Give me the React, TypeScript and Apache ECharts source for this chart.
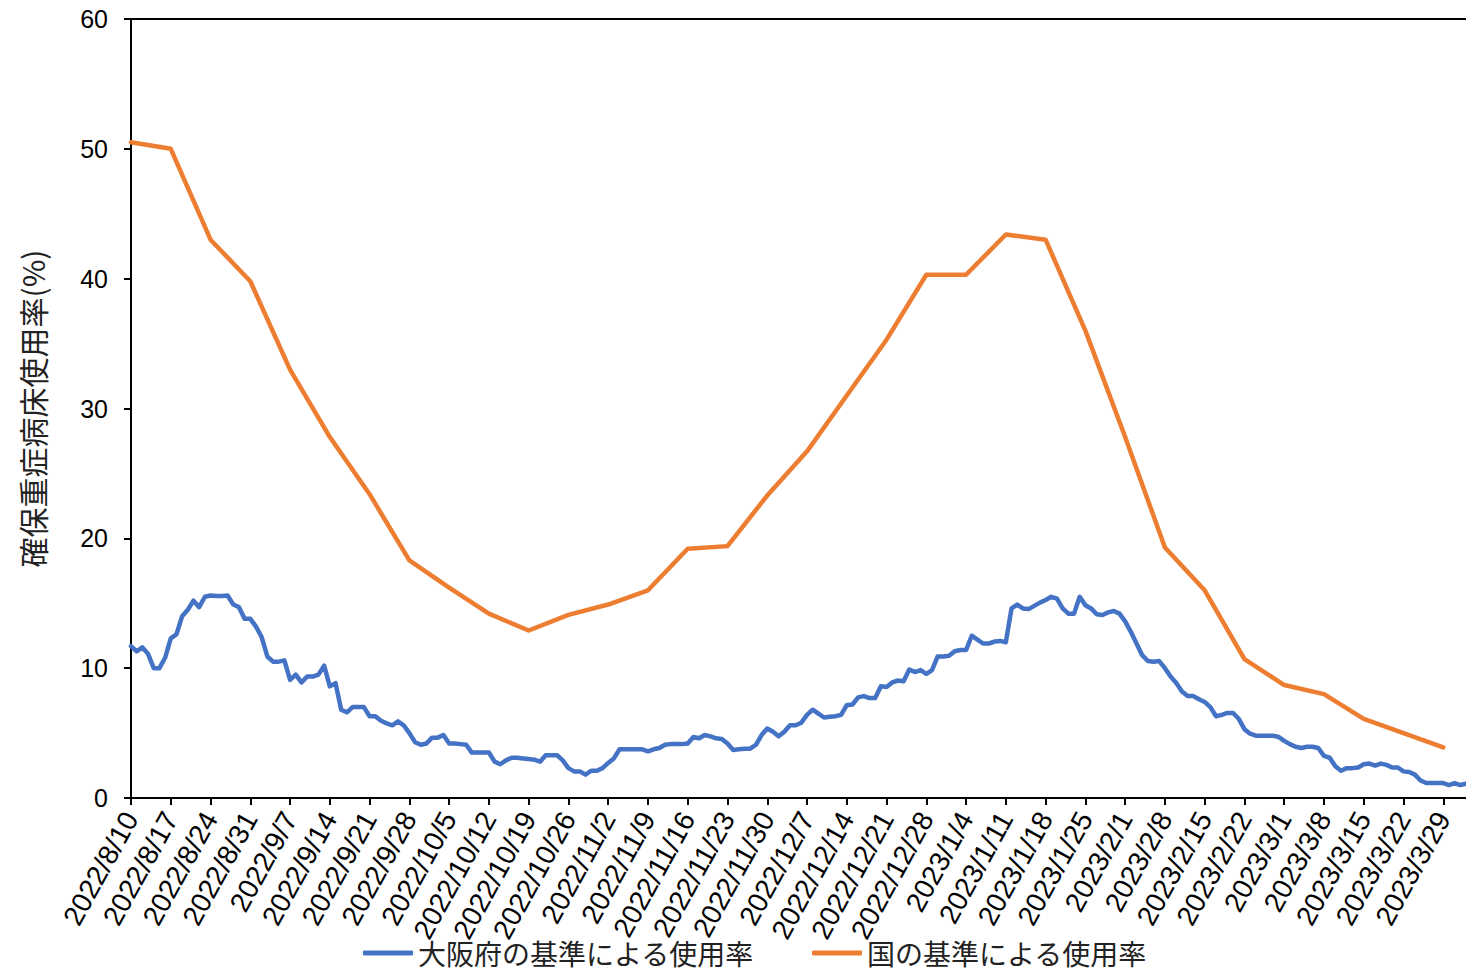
import React, { useEffect, useRef } from "react";
import * as echarts from "echarts";

const startDate = [2022, 8, 10];
const dayCount = 236;

// 大阪府の基準による使用率 (daily, from 2022/8/10)
const osakaRate = [
  11.7, 11.3, 11.6, 11.1, 10.0, 10.0, 10.8, 12.3, 12.6, 14.0,
  14.5, 15.2, 14.7, 15.5, 15.6, 15.55, 15.55, 15.6, 14.9, 14.7,
  13.8, 13.8, 13.2, 12.4, 10.9, 10.5, 10.5, 10.6, 9.1, 9.5,
  8.9, 9.35, 9.35, 9.5, 10.2, 8.6, 8.85, 6.8, 6.6, 7.0,
  7.0, 7.0, 6.3, 6.3, 5.95, 5.75, 5.6, 5.9, 5.6, 5.0,
  4.3, 4.1, 4.2, 4.65, 4.65, 4.85, 4.2, 4.2, 4.15, 4.1,
  3.5, 3.5, 3.5, 3.5, 2.8, 2.6, 2.9, 3.1, 3.1, 3.05,
  3.0, 2.95, 2.8, 3.3, 3.3, 3.3, 2.9, 2.3, 2.05, 2.05,
  1.8, 2.1, 2.1, 2.3, 2.7, 3.05, 3.75, 3.75, 3.75, 3.75,
  3.75, 3.6, 3.75, 3.85, 4.1, 4.15, 4.15, 4.15, 4.2, 4.7,
  4.6, 4.85, 4.75, 4.6, 4.55, 4.2, 3.7, 3.75, 3.8, 3.8,
  4.1, 4.85, 5.35, 5.1, 4.75, 5.1, 5.6, 5.6, 5.8, 6.4,
  6.8, 6.5, 6.2, 6.25, 6.3, 6.4, 7.15, 7.2, 7.75, 7.85,
  7.7, 7.7, 8.6, 8.55, 8.9, 9.05, 9.0, 9.9, 9.7, 9.85,
  9.55, 9.85, 10.9, 10.9, 10.95, 11.3, 11.4, 11.4, 12.5, 12.2,
  11.9, 11.9, 12.05, 12.1, 12.0, 14.6, 14.9, 14.6, 14.55, 14.8,
  15.05, 15.25, 15.5, 15.35, 14.6, 14.2, 14.2, 15.5, 14.85, 14.6,
  14.15, 14.1, 14.3, 14.4, 14.2, 13.6, 12.8, 11.9, 11.0, 10.55,
  10.5, 10.55, 10.0, 9.35, 8.85, 8.2, 7.85, 7.85, 7.6, 7.4,
  7.0, 6.3, 6.4, 6.55, 6.55, 6.1, 5.3, 4.95, 4.8, 4.8,
  4.8, 4.8, 4.7, 4.4, 4.15, 3.95, 3.85, 3.95, 3.95, 3.85,
  3.25, 3.1, 2.45, 2.1, 2.3, 2.3, 2.35, 2.6, 2.65, 2.5,
  2.65, 2.55, 2.35, 2.35, 2.05, 2.0, 1.8, 1.35, 1.15, 1.15,
  1.15, 1.15, 1.0, 1.15, 1.0, 1.1,
];

// 国の基準による使用率 (weekly, every 7 days from 2022/8/10)
const nationalRate = [
  50.5, 50.0, 43.0, 39.8, 33.0, 27.8, 23.4, 18.3, 16.2, 14.2,
  12.9, 14.1, 14.9, 16.0, 19.2, 19.4, 23.3, 26.7, 31.0, 35.3,
  40.3, 40.3, 43.4, 43.0, 36.0, 27.8, 19.3, 16.0, 10.7, 8.7,
  8.0, 6.1, 5.0, 3.9,
];

const seriesNames = ["大阪府の基準による使用率", "国の基準による使用率"];
const yAxisName = "確保重症病床使用率(%)";
const yTicks = { min: 0, max: 60, interval: 10 };

function buildDates(): string[] {
  const out: string[] = [];
  const base = Date.UTC(startDate[0], startDate[1] - 1, startDate[2]);
  for (let i = 0; i < dayCount; i++) {
    const d = new Date(base + i * 86400000);
    out.push(`${d.getUTCFullYear()}/${d.getUTCMonth() + 1}/${d.getUTCDate()}`);
  }
  return out;
}

export default function App() {
  const ref = useRef<HTMLDivElement>(null);
  useEffect(() => {
    if (!ref.current) return;
    const chart = echarts.init(ref.current, null, { renderer: "svg" });
    const dates = buildDates();
    const nationalFull = dates.map((_, i) =>
      i % 7 === 0 && i / 7 < nationalRate.length ? nationalRate[i / 7] : null
    );
    const font = "'Liberation Sans', Arial, 'Noto Sans CJK JP', sans-serif";
    const cjkFont = "'Noto Sans CJK JP', 'Liberation Sans', sans-serif";
    chart.setOption({
      animation: false,
      backgroundColor: "#ffffff",
      grid: { left: 131, top: 19, width: 1335, height: 779, containLabel: false },
      legend: {
        left: 358,
        top: 933,
        itemWidth: 50,
        itemHeight: 5,
        itemGap: 58,
        icon: "roundRect",
        textStyle: { fontSize: 28, lineHeight: 30, color: "#222", fontFamily: cjkFont },
        data: seriesNames,
      },
      xAxis: [
        {
          type: "category",
          data: dates,
          boundaryGap: false,
          axisLine: { show: true, lineStyle: { color: "#000", width: 2 } },
          axisTick: { show: true, interval: 6, length: 7, lineStyle: { color: "#000", width: 2 } },
          axisLabel: {
            interval: 6,
            rotate: 61,
            margin: 16,
            fontSize: 28,
            color: "#000",
            fontFamily: font,
            hideOverlap: false,
          },
          splitLine: { show: false },
        },
        {
          type: "category",
          data: dates,
          position: "top",
          boundaryGap: false,
          axisLine: { show: true, lineStyle: { color: "#000", width: 2 } },
          axisTick: { show: false },
          axisLabel: { show: false },
          splitLine: { show: false },
        },
      ],
      yAxis: {
        type: "value",
        min: yTicks.min,
        max: yTicks.max,
        interval: yTicks.interval,
        name: yAxisName,
        nameLocation: "middle",
        nameGap: 84,
        nameRotate: 90,
        nameTextStyle: { fontSize: 30, color: "#222", fontFamily: cjkFont },
        axisLine: { show: true, lineStyle: { color: "#000", width: 2 } },
        axisTick: { show: true, length: 7, lineStyle: { color: "#000", width: 2 } },
        axisLabel: { fontSize: 25, color: "#000", margin: 23, fontFamily: font },
        splitLine: { show: false },
      },
      series: [
        {
          name: seriesNames[0],
          type: "line",
          data: osakaRate,
          showSymbol: false,
          symbol: "none",
          lineStyle: { color: "#4472C4", width: 4.5, join: "round", cap: "round" },
          itemStyle: { color: "#4472C4" },
        },
        {
          name: seriesNames[1],
          type: "line",
          data: nationalFull,
          connectNulls: true,
          showSymbol: false,
          symbol: "none",
          lineStyle: { color: "#ED7D31", width: 4.5, join: "round", cap: "round" },
          itemStyle: { color: "#ED7D31" },
        },
      ],
    });
    return () => chart.dispose();
  }, []);
  return (
    <div
      ref={ref}
      style={{ position: "absolute", left: 0, top: 0, width: 1466, height: 977 }}
    />
  );
}
